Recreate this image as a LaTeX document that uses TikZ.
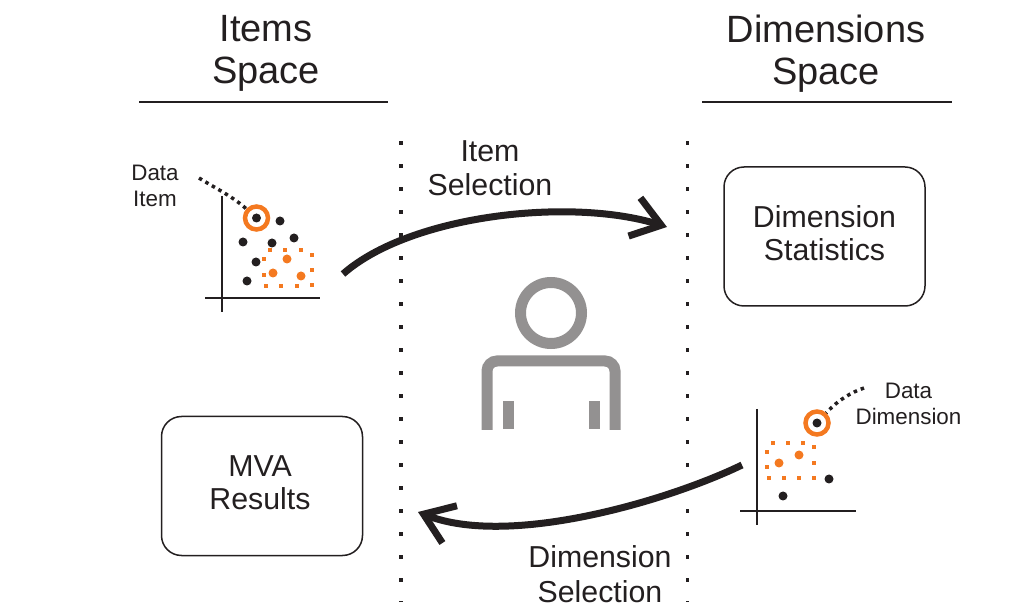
\documentclass[tikz,border=0pt]{standalone}
\usepackage{fontspec}
\setmainfont{Liberation Sans}
\usetikzlibrary{arrows.meta}
\definecolor{inkdark}{HTML}{231F20}
\definecolor{accent}{HTML}{F47920}
\definecolor{persongray}{HTML}{939191}
\tikzset{
  title/.style={font=\fontsize{38}{42}\selectfont,align=center,text=inkdark},
  label/.style={font=\fontsize{30.3}{33}\selectfont,align=center,text=inkdark},
  sellabel/.style={font=\fontsize{30.3}{34.5}\selectfont,align=center,text=inkdark},
  small/.style={font=\fontsize{22.4}{26}\selectfont,align=center,text=inkdark},
  card/.style={draw=inkdark,line width=1.5pt,rounded corners=20pt,minimum width=201pt,minimum height=139pt,inner sep=0pt},
  sweep/.style={draw=inkdark,line width=7pt,-{Straight Barb[length=28pt,width=40pt,line width=7pt]}},
  guide/.style={draw=inkdark,line width=3.6pt,dash pattern=on 3.6pt off 19.4pt},
  axis/.style={draw=inkdark,line width=1.7pt},
  leader/.style={draw=inkdark,line width=3.5pt,dash pattern=on 3.5pt off 4pt},
  selbit/.style={fill=accent,inner sep=0pt,minimum size=4pt},
  dotk/.style={circle,fill=inkdark,inner sep=0pt,minimum size=9pt},
  doto/.style={circle,fill=accent,inner sep=0pt,minimum size=9pt},
  ring/.style={circle,draw=accent,line width=4.5pt,inner sep=0pt,minimum size=23pt},
}
\begin{document}
\begin{tikzpicture}[x=1pt,y=-1pt]
  \useasboundingbox (0,0) rectangle (1018,609);

  % headers
  \node[title] (itemsspace) at (266,53.5) {Items\\Space};
  \node[title] (dimspace) at (826,53.5) {Dimensions\\Space};
  \draw[line width=1.5pt,inkdark] (139,102) -- (388,102);
  \draw[line width=1.5pt,inkdark] (702,102) -- (952,102);

  % separators
  \draw[guide] (400.7,141.2) -- (400.7,602);
  \draw[guide] (687.5,141.2) -- (687.5,602);

  % cards
  \node[card] (stats) at (824.5,236.5) {};
  \node[label] (statstext) at (824.5,233.5) {Dimension\\Statistics};
  \node[card] (mva) at (262,486) {};
  \node[label] (mvatext) at (260,483) {MVA\\Results};

  % person
  \draw[persongray,line width=11pt] (551,313) circle (30.5);
  \draw[persongray,line width=11pt,rounded corners=10pt] (487,430) -- (487,361) -- (615,361) -- (615,430);
  \fill[persongray] (503,401) rectangle (514,429.5);
  \fill[persongray] (589,401) rectangle (600,429.5);

  % items scatter
  \draw[axis] (222,196) -- (222,312);
  \draw[axis] (205,298) -- (320,298);
  \foreach \px/\py in {270/250,285/250,301/250,312/255,312/270,312/285,297/286,281/286,266/286,264/275,264/259}
    \node[selbit] at (\px,\py) {};
  \foreach \px/\py in {256.5/218,280/221,243/242,272/243,294/238,256/262,247/281}
    \node[dotk] at (\px,\py) {};
  \foreach \px/\py in {287/259,273/273,301/276}
    \node[doto] at (\px,\py) {};
  \node[ring] (itemring) at (256.5,218) {};
  \node[small] (itemlabel) at (155,186) {Data\\Item};
  \coordinate (itemend) at (199,178);
  \draw[leader] (itemend) .. controls (215,188) and (232,196) .. (itemring);

  % dimensions scatter
  \draw[axis] (757,409) -- (757,525);
  \draw[axis] (740,511) -- (856,511);
  \foreach \px/\py in {773/443,788/443,803/443,814/447,814/463,814/478,799/478,784/478,769/478,767/467,767/452}
    \node[selbit] at (\px,\py) {};
  \foreach \px/\py in {829/479,783/496}
    \node[dotk] at (\px,\py) {};
  \foreach \px/\py in {799/455,779/463}
    \node[doto] at (\px,\py) {};
  \node[dotk] (dimdot) at (817,423) {};
  \node[ring] (dimring) at (817,423) {};
  \node[small] (dimlabel) at (908.5,404) {Data\\Dimension};
  \coordinate (dimend) at (864,388);
  \draw[leader] (dimend) .. controls (852,392) and (838,400) .. (dimring);

  % selection arrows
  \node[sellabel] (itemsel) at (490,168) {Item\\Selection};
  \node[sellabel] (dimsel) at (600,574) {Dimension\\Selection};
  \coordinate (itemfrom) at (343,274);
  \coordinate (itemto) at (667,227);
  \coordinate (dimfrom) at (742,465);
  \coordinate (dimto) at (418,512);
  \draw[sweep] (itemfrom) .. controls (410,215) and (570,197) .. (itemto);
  \draw[sweep] (dimfrom) .. controls (670,500) and (510,548) .. (dimto);
\end{tikzpicture}
\end{document}
